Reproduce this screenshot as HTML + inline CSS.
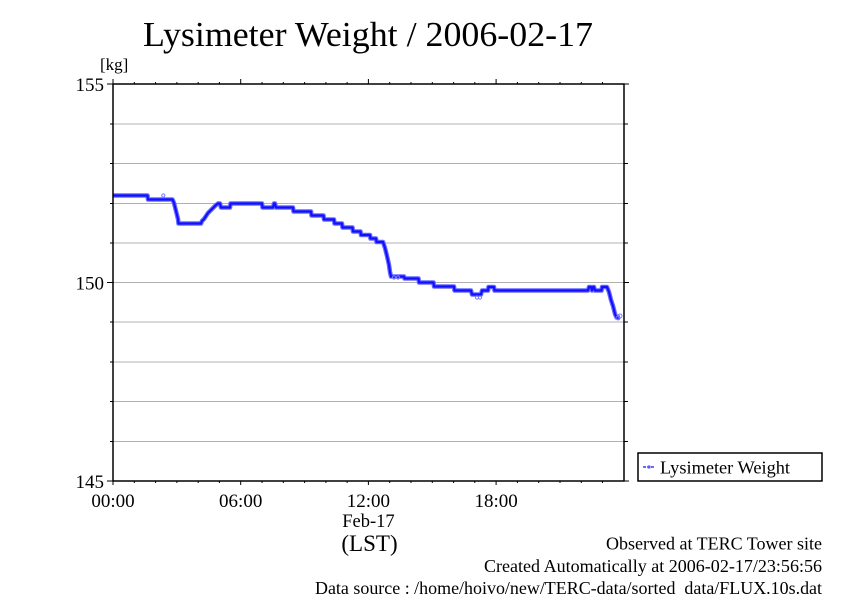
<!DOCTYPE html>
<html>
<head>
<meta charset="utf-8">
<style>
html,body{margin:0;padding:0;background:#fff;}
svg{display:block;}
text{font-family:"Liberation Serif","DejaVu Serif",serif;fill:#000;}
</style>
</head>
<body>
<svg width="842" height="595" viewBox="0 0 842 595" xmlns="http://www.w3.org/2000/svg">
<rect x="0" y="0" width="842" height="595" fill="#fff"/>

<!-- title -->
<text x="143" y="46" font-size="35" textLength="450" lengthAdjust="spacingAndGlyphs">Lysimeter Weight / 2006-02-17</text>

<!-- gridlines -->
<g stroke="#b0b0b0" stroke-width="1">
<line x1="113" y1="124" x2="624" y2="124"/>
<line x1="113" y1="163.5" x2="624" y2="163.5"/>
<line x1="113" y1="203.5" x2="624" y2="203.5"/>
<line x1="113" y1="243" x2="624" y2="243"/>
<line x1="113" y1="282.5" x2="624" y2="282.5"/>
<line x1="113" y1="322" x2="624" y2="322"/>
<line x1="113" y1="362" x2="624" y2="362"/>
<line x1="113" y1="401.5" x2="624" y2="401.5"/>
<line x1="113" y1="441.5" x2="624" y2="441.5"/>
</g>

<!-- ticks -->
<g stroke="#000" stroke-width="1">
<line x1="107" y1="84" x2="113" y2="84"/>
<line x1="110" y1="124" x2="113" y2="124"/>
<line x1="110" y1="163.5" x2="113" y2="163.5"/>
<line x1="110" y1="203.5" x2="113" y2="203.5"/>
<line x1="110" y1="243" x2="113" y2="243"/>
<line x1="107" y1="282.5" x2="113" y2="282.5"/>
<line x1="110" y1="322" x2="113" y2="322"/>
<line x1="110" y1="362" x2="113" y2="362"/>
<line x1="110" y1="401.5" x2="113" y2="401.5"/>
<line x1="110" y1="441.5" x2="113" y2="441.5"/>
<line x1="107" y1="481" x2="113" y2="481"/>
<line x1="624" y1="84" x2="629" y2="84"/>
<line x1="624" y1="124" x2="628" y2="124"/>
<line x1="624" y1="163.5" x2="628" y2="163.5"/>
<line x1="624" y1="203.5" x2="628" y2="203.5"/>
<line x1="624" y1="243" x2="628" y2="243"/>
<line x1="624" y1="282.5" x2="629" y2="282.5"/>
<line x1="624" y1="322" x2="628" y2="322"/>
<line x1="624" y1="362" x2="628" y2="362"/>
<line x1="624" y1="401.5" x2="628" y2="401.5"/>
<line x1="624" y1="441.5" x2="628" y2="441.5"/>
<line x1="624" y1="481" x2="629" y2="481"/>
</g>
<g stroke="#000" stroke-width="1">
<path d="
M134.3 84 v-2 M155.6 84 v-2 M176.9 84 v-2 M198.2 84 v-2 M219.4 84 v-2 M240.7 84 v-5
M262 84 v-2 M283.3 84 v-2 M304.6 84 v-2 M325.9 84 v-2 M347.1 84 v-2 M368.4 84 v-5
M389.7 84 v-2 M411 84 v-2 M432.3 84 v-2 M453.6 84 v-2 M474.8 84 v-2 M496.1 84 v-5
M517.4 84 v-2 M538.7 84 v-2 M560 84 v-2 M581.3 84 v-2 M602.5 84 v-2
M134.3 481 v2 M155.6 481 v2 M176.9 481 v2 M198.2 481 v2 M219.4 481 v2 M240.7 481 v4
M262 481 v2 M283.3 481 v2 M304.6 481 v2 M325.9 481 v2 M347.1 481 v2 M368.4 481 v4
M389.7 481 v2 M411 481 v2 M432.3 481 v2 M453.6 481 v2 M474.8 481 v2 M496.1 481 v4
M517.4 481 v2 M538.7 481 v2 M560 481 v2 M581.3 481 v2 M602.5 481 v2
M113 481 v4 M113 84 v-5"/>
</g>

<!-- data series -->
<polyline fill="none" stroke="#6a6aff" stroke-width="4.5" stroke-linejoin="round" points="
113,195.5 147.5,195.5 148,199.5 172.5,199.5 174,203 175,207 176,211 177,215 178,219 178.5,223.5
201,223.5 202,221 204,219 206,216 208,213 210,211 212,209 214,207 216,205 217.5,204 218,203.5 220,203.5
221,207.5 230,207.5 230.5,203.5 262,203.5 262.5,207.5 273,207.5 274,203.5 275,203.5 276,207.5 293,207.5
293.5,211.5 311,211.5 311.5,215.5 323.5,215.5 324,219.5 334,219.5 334.5,223.5 342,223.5 342.5,227.5
352.5,227.5 353,231.5 360.5,231.5 361,235 370,235 370.5,238.5 376,238.5 376.5,242 383,242
385,248 387,256 389,265 390,272 391,276.5 404,276.5 404.5,278.5 418.5,278.5 419,282.5 433.5,282.5
434,286.5 454,286.5 454.5,290.5 471,290.5 472,294.5 481,294.5 482,290.5 488,290.5 488.5,287 494,287
494.5,290.5 588,290.5 589,287 591,287 592,290.5 593,287 594,287 595,290.5 601.5,290.5 602,287 607,287
609,292 611,300 613,306 614,310 615,314 616.5,317.5 620,317.5"/>
<polyline fill="none" stroke="#1010ff" stroke-width="2.2" stroke-linejoin="round" points="
113,195.5 147.5,195.5 148,199.5 172.5,199.5 174,203 175,207 176,211 177,215 178,219 178.5,223.5
201,223.5 202,221 204,219 206,216 208,213 210,211 212,209 214,207 216,205 217.5,204 218,203.5 220,203.5
221,207.5 230,207.5 230.5,203.5 262,203.5 262.5,207.5 273,207.5 274,203.5 275,203.5 276,207.5 293,207.5
293.5,211.5 311,211.5 311.5,215.5 323.5,215.5 324,219.5 334,219.5 334.5,223.5 342,223.5 342.5,227.5
352.5,227.5 353,231.5 360.5,231.5 361,235 370,235 370.5,238.5 376,238.5 376.5,242 383,242
385,248 387,256 389,265 390,272 391,276.5 404,276.5 404.5,278.5 418.5,278.5 419,282.5 433.5,282.5
434,286.5 454,286.5 454.5,290.5 471,290.5 472,294.5 481,294.5 482,290.5 488,290.5 488.5,287 494,287
494.5,290.5 588,290.5 589,287 591,287 592,290.5 593,287 594,287 595,290.5 601.5,290.5 602,287 607,287
609,292 611,300 613,306 614,310 615,314 616.5,317.5 620,317.5"/>
<g fill="none" stroke="#7a7aff" stroke-width="1">
<circle cx="163.3" cy="195.5" r="1.6"/>
<circle cx="477" cy="297.5" r="1.6"/>
<circle cx="480" cy="297.5" r="1.6"/>
<circle cx="394" cy="277.5" r="1.6"/>
<circle cx="398" cy="277.5" r="1.6"/>
<circle cx="618" cy="318" r="2"/>
<circle cx="620" cy="316" r="2"/>
</g>

<!-- axes frame -->
<rect x="113" y="84" width="511" height="397" fill="none" stroke="#000" stroke-width="1.5"/>

<!-- y labels -->
<text x="104" y="91" font-size="19" text-anchor="end">155</text>
<text x="104" y="289.5" font-size="19" text-anchor="end">150</text>
<text x="104" y="488" font-size="19" text-anchor="end">145</text>
<text x="100" y="70" font-size="17">[kg]</text>

<!-- x labels -->
<text x="113" y="507" font-size="19" text-anchor="middle">00:00</text>
<text x="240.7" y="507" font-size="19" text-anchor="middle">06:00</text>
<text x="368.4" y="507" font-size="19" text-anchor="middle">12:00</text>
<text x="496.1" y="507" font-size="19" text-anchor="middle">18:00</text>
<text x="368.4" y="527" font-size="18.5" text-anchor="middle">Feb-17</text>
<text x="369.5" y="551" font-size="23" text-anchor="middle">(LST)</text>

<!-- legend -->
<rect x="638" y="453" width="184" height="28" fill="#fff" stroke="#000" stroke-width="1.5"/>
<line x1="643" y1="467" x2="655" y2="467" stroke="#1010ff" stroke-width="1.2" stroke-dasharray="3,1"/>
<circle cx="649" cy="467" r="1.3" fill="none" stroke="#7a7aff" stroke-width="1"/>
<text x="660" y="473.5" font-size="18" textLength="130" lengthAdjust="spacingAndGlyphs">Lysimeter Weight</text>

<!-- footer -->
<text x="822" y="549.5" font-size="18" text-anchor="end" textLength="216" lengthAdjust="spacingAndGlyphs">Observed at TERC Tower site</text>
<text x="822" y="572" font-size="18" text-anchor="end" textLength="338" lengthAdjust="spacingAndGlyphs">Created Automatically at 2006-02-17/23:56:56</text>
<text x="822" y="594" font-size="18" text-anchor="end" textLength="507" lengthAdjust="spacingAndGlyphs">Data source : /home/hoivo/new/TERC-data/sorted_data/FLUX.10s.dat</text>
</svg>
</body>
</html>
